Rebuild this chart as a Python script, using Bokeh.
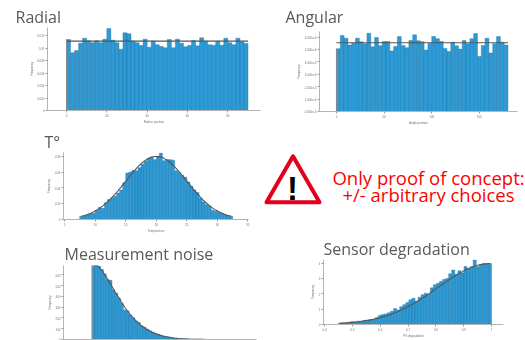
from bokeh.plotting import figure
from bokeh.layouts import column, row
from bokeh.models import FixedTicker, Range1d, PrintfTickFormatter
from bokeh.core.properties import value
from bokeh.embed import file_html
from bokeh.resources import INLINE

radial_vals = [.01136,.00923,.0096,.01077,.01157,.01115,.01083,.01115,.01083,.01141,.01312,.01125,.01083,.00981,.01243,
               .01227,.01109,.01083,.0104,.01141,.01013,.01109,.01051,.01024,.01003,.01136,.01003,.01141,.01077,.01019,
               .0104,.0112,.01035,.01163,.01109,.01051,.01045,.01109,.01045,.01157,.01083,.01051,.01157,.01099,.01072]
radial_line = [.0111] * 46
angular_vals = [5.07,6.13,5.92,5.36,5.52,5.92,5.63,5.47,6.32,5.23,5.97,5.31,5.65,5.65,4.88,5.25,6.05,5.33,5.15,5.73,6.19,5.71,5.63,4.96,5.49,
                6.05,5.87,5.65,5.09,4.85,5.6,5.31,5.04,5.73,5.47,5.87,6.29,4.45,5.33,5.92,4.72,5.47,6.05,5.6,5.36]
angular_line = [5.55] * 46
temp_vals = [.0040,.0048,.0060,.0072,.0080,.0113,.0153,.0141,.0213,.0253,.0273,.0293,.0334,.0374,.0466,.0587,.0600,.0623,.0615,.0655,.0700,.0735,.0775,.0788,.0756,
             .0800,.0840,.0744,.0760,.0755,.0750,.0615,.0595,.0560,.0535,.0475,.0420,.0374,.0340,.0270,.0221,.0185,.0170,.0118,.0105,.0092,.0080,.0062,.0050,.0042]
temp_line = [.0040,.0050,.0063,.0079,.0097,.0119,.0144,.0173,.0205,.0240,.0279,.0321,.0365,.0412,.0460,.0508,.0556,.0602,.0646,.0686,.0721,.0750,.0773,.0789,.0797,
             .0797,.0789,.0773,.0750,.0721,.0686,.0646,.0602,.0556,.0508,.0460,.0412,.0365,.0321,.0279,.0240,.0205,.0173,.0144,.0119,.0097,.0079,.0063,.0050,.0040]
noise_vals = [690,690,680,650,610,556,550,462,431,384,337,275,266,228,203,172,159,128,116,97,81,69,56,47,38,31,25,22,16,12,9,9,6,6,3,3,2,1,1,1]
noise_line = [700,690,670,640,600,560,515,470,425,385,340,300,265,230,200,172,148,125,106,90,75,62,52,43,35,28,23,18,14,11,8,6,5,4,3,2,2,1,1,1]
sensor_vals = [.10,.10,.12,.14,.18,.16,.22,.20,.27,.27,.33,.35,.45,.59,.65,.69,.76,.86,1.04,.94,1.16,1.29,1.43,1.61,1.71,1.51,1.78,1.94,2.04,1.98,
               2.39,2.59,2.69,2.80,2.94,3.00,3.31,3.55,3.27,3.51,3.37,3.78,3.63,3.76,4.20,3.76,3.92,3.98,3.98,3.98]
sensor_line = [.08,.09,.10,.12,.14,.16,.18,.21,.24,.27,.30,.34,.39,.44,.50,.56,.62,.69,.77,.85,.94,1.04,1.14,1.25,1.36,1.48,1.60,1.73,1.86,2.00,
               2.14,2.28,2.42,2.56,2.70,2.84,2.97,3.10,3.22,3.34,3.45,3.55,3.65,3.73,3.80,3.86,3.91,3.94,3.96,3.97]

BLUE, EDGE, GREY = "#2e9bd6", "#1d6f9e", "#595959"


def panel(title, tx, standoff, vals, line, x0, w, xr, yr, xt, yt, xlab, border, size, fmt=None, lh=1.0):
    W, H = size
    p = figure(width=W, height=H, output_backend="svg", toolbar_location=None,
               x_range=Range1d(*xr), y_range=Range1d(*yr), min_border=0,
               min_border_left=border[0], min_border_right=border[1],
               min_border_top=border[2], min_border_bottom=border[3],
               title=title, styles={"filter": "blur(0.45px)"})
    p.title.text_font = "Open Sans"
    p.title.text_font_size = "16px"
    p.title.text_font_style = "normal"
    p.title.text_color = GREY
    p.title.text_line_height = lh
    p.title.standoff = standoff
    p.title.offset = tx
    p.outline_line_color = None
    p.grid.visible = False
    left = [x0 + i * w for i in range(len(vals))]
    right = [x0 + (i + 1) * w for i in range(len(vals))]
    p.quad(left=left, right=right, top=vals, bottom=0, fill_color=BLUE, line_color=EDGE, line_width=0.4)
    if len(line) == len(vals) + 1:
        lx = [x0 + i * w for i in range(len(line))]
    else:
        lx = [x0 + (i + .5) * w for i in range(len(line))]
    p.line(lx, line, line_color="#555555", line_width=1.1)
    p.segment(x0=[x0], y0=[0], x1=[x0], y1=[vals[0]], line_color="#8a8a8a", line_width=1)
    for ax in (p.xaxis[0], p.yaxis[0]):
        ax.axis_line_color = "#b5b5b5"
        ax.major_tick_line_color = "#999999"
        ax.minor_tick_line_color = "#bbbbbb"
        ax.major_tick_in = 0
        ax.major_tick_out = 2
        ax.minor_tick_out = 1
        ax.major_label_text_font_size = "3px"
        ax.major_label_text_color = "#777777"
        ax.major_label_standoff = 1
        ax.axis_label_text_font_size = "3px"
        ax.axis_label_text_color = "#777777"
        ax.axis_label_text_font_style = "normal"
        ax.axis_label_standoff = 1
    p.yaxis[0].ticker = FixedTicker(ticks=yt, num_minor_ticks=5)
    if xlab:
        p.xaxis[0].ticker = FixedTicker(ticks=xt, num_minor_ticks=5)
        p.xaxis[0].axis_label = xlab
    else:
        p.xaxis[0].ticker = FixedTicker(ticks=[])
        p.xaxis[0].major_label_text_font_size = "0px"
        p.xaxis[0].major_label_standoff = 0
        p.xaxis[0].major_tick_out = 0
        p.xaxis[0].minor_tick_out = 0
    p.yaxis[0].axis_label = "Frequency"
    if fmt:
        p.yaxis[0].formatter = PrintfTickFormatter(format=fmt)
    return p


a = panel("Radial", -32, 0, radial_vals, radial_line, 0, 2, (-9.42, 96.2), (0, .01328),
          [0, 20, 40, 60, 80], [0, .002, .004, .006, .008, .01, .012], "Radius position", (47, 10, 27, 18), (270, 128), lh=0.9)
b = panel("Angular", -34, 7, angular_vals, angular_line, 0, 4, (-17.8, 190), (0, 6.46),
          [0, 50, 100, 150], [0, 1, 2, 3, 4, 5, 6], "Angle position", (49, 8, 30, 17), (255, 128), "%.3fe-3")
c = panel("T°", -19, 0, temp_vals, temp_line, 7.5, .5, (4.8, 35.1), (0, .0847),
          [5, 10, 15, 20, 25, 30, 35], [0, .02, .04, .06, .08], "Temperature", (63, 14, 23, 14), (262, 107), lh=0.3)
d = panel("Measurement noise", 1, 1, noise_vals, noise_line, 0, 1, (-10.1, 58), (0, 688),
          None, [0, 100, 200, 300, 400, 500, 600], None, (63, 14, 30, 1), (270, 105))
e = panel("Sensor degradation", 0, 0, sensor_vals, sensor_line, .45, .011, (.396, 1.043), (0, 4.24),
          [.4, .5, .6, .7, .8, .9, 1], [0, 1, 2, 3, 4], "PS degradation", (53, 22, 23, 13), (255, 105))

w = figure(width=263, height=107, output_backend="svg", toolbar_location=None, min_border=0,
           x_range=Range1d(262, 525), y_range=Range1d(235, 128), x_axis_location=None, y_axis_location=None)
w.outline_line_color = None
w.grid.visible = False
w.scatter([292.5], [183], marker="triangle", size=53, fill_color="white", line_color="#e2001a",
          line_width=4, line_join="round")
w.text([292], [185], text=["!"], text_font=value("Liberation Sans"), text_font_style="bold",
       text_font_size="33px", text_align="center", text_baseline="middle", text_color="black")
w.text([428, 428], [168, 195], text=["Only proof of concept:", "+/- arbitrary choices"],
       text_font=value("Open Sans"), text_font_size="18.5px", text_align="center", text_baseline="middle",
       text_color="#ff0000")

layout = column(row(column(a), column(b), spacing=0), row(c, w, spacing=0), row(column(d), column(e), spacing=0), spacing=0)
open("out.html", "w").write(file_html(layout, INLINE))
